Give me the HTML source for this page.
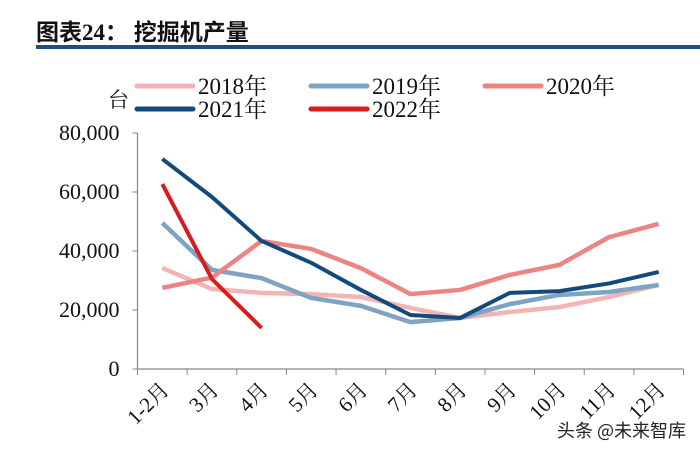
<!DOCTYPE html>
<html><head><meta charset="utf-8"><style>
body{margin:0;background:#fff;width:700px;height:451px;overflow:hidden;font-family:"Liberation Serif","Noto Serif CJK SC",serif}
</style></head><body>
<svg width="700" height="451" xmlns="http://www.w3.org/2000/svg">
<text x="36" y="40" font-size="23" font-weight="bold" fill="#111" font-family="'Liberation Serif','Noto Sans CJK SC',sans-serif">图表24：  挖掘机产量</text>
<rect x="36" y="45" width="664" height="4" fill="#1f4e85"/>
<text x="108" y="107" font-size="21" fill="#111" font-family="'Liberation Serif','Noto Serif CJK SC',serif">台</text>
<g id="legend"></g>
<g id="axes"></g>
<g id="plot"></g>
<text x="557" y="437" font-size="18" fill="#222" font-family="'Noto Sans CJK SC',sans-serif">头条 @未来智库</text>
</svg>
<script>
const categories=["1-2月","3月","4月","5月","6月","7月","8月","9月","10月","11月","12月"];
const yTicks=[0,20000,40000,60000,80000];
const yTickLabels=["0","20,000","40,000","60,000","80,000"];
const seriesNames=["2018年","2019年","2020年","2021年","2022年"];
const s2018=[34200,27100,25800,25400,24400,20700,17300,19300,21000,24400,28500];
const s2019=[49500,33600,30800,24100,21400,15900,17300,22000,25100,26100,28500];
const s2020=[27500,31000,43400,40700,34200,25400,26800,31900,35300,44700,49200];
const s2021=[71200,58300,43400,36000,26800,18300,17300,25800,26400,29000,32900];
const s2022=[62700,30500,13900];
const colors=["#f4b4b4","#7fa3c2","#ec8582","#134a7c","#d81c1c"];
const NS="http://www.w3.org/2000/svg";
const x0=137.5,x1=683.5,yb=369,yt=133,yMax=80000;
const bw=(x1-x0)/categories.length;
const xs=i=>x0+bw*(i+0.5);
const ys=v=>yb-(v/yMax)*(yb-yt);
function mk(t,a,p){const e=document.createElementNS(NS,t);for(const k in a)e.setAttribute(k,a[k]);p.appendChild(e);return e;}
const axes=document.getElementById('axes'),plot=document.getElementById('plot'),leg=document.getElementById('legend');
let l=mk('line',{x1:x0,y1:yt,x2:x0,y2:yb,stroke:'#888','stroke-width':1.2},axes);


l=mk('line',{x1:x0,y1:yb,x2:x1,y2:yb,stroke:'#888','stroke-width':1.2},axes);


yTicks.forEach((v,i)=>{
 const tk=mk('line',{x1:x0-5,y1:ys(v),x2:x0,y2:ys(v),stroke:'#888'},axes);
 
 
 const t=mk('text',{x:x0-18,y:ys(v)+7,'font-size':22,'text-anchor':'end',fill:'#111'},axes);
 t.textContent=yTickLabels[i];
 
 
});
for(let i=0;i<=categories.length;i++){
 const tk=mk('line',{x1:x0+bw*i,y1:yb,x2:x0+bw*i,y2:yb+6,stroke:'#888'},axes);
 
 
}
categories.forEach((c,i)=>{
 const x=xs(i)+8,y=yb+22;
 const t=mk('text',{x:x,y:y,'font-size':21,'text-anchor':'end',fill:'#111',transform:`rotate(-45 ${x} ${y})`,'font-family':"'Liberation Serif','Noto Serif CJK SC',serif"},axes);
 t.textContent=c;
 
 
});
[s2018,s2019,s2020,s2021,s2022].forEach((s,k)=>{
 const p=mk('polyline',{points:s.map((v,i)=>xs(i)+','+ys(v)).join(' '),fill:'none',stroke:colors[k],'stroke-width':k>=3?4:4.5,'stroke-linejoin':'round'},plot);
 
 
});
const lpos=[[137,86],[311,86],[485,86],[137,109],[311,109]];
seriesNames.forEach((n,k)=>{
 const [x,y]=lpos[k];
 const g=mk('g',{},leg);
 
 
 mk('line',{x1:x,y1:y,x2:x+56,y2:y,stroke:colors[k],'stroke-width':5,'stroke-linecap':'round'},g);
 const t=mk('text',{x:x+61,y:y+8,'font-size':23,fill:'#111','font-family':"'Liberation Serif','Noto Serif CJK SC',serif"},g);
 t.textContent=n;
});
</script>
</body></html>
